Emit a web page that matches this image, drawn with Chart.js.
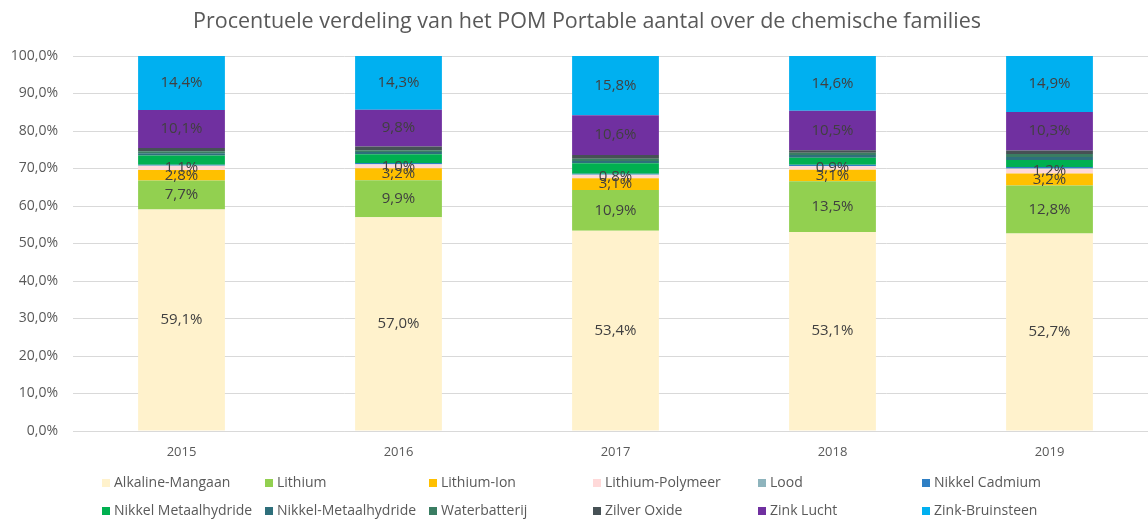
<!DOCTYPE html>
<html lang="nl">
<head>
    <meta charset="UTF-8">
    <title>POM Portable aantal</title>
    <style>
        html, body {
            margin: 0;
            padding: 0;
            background: #fff;
            overflow: hidden;
        }
        #wrap {
            width: 1158px;
            height: 519px;
        }
    </style>
</head>
<body>
    <div id="wrap">
        <canvas id="chart" width="1158" height="519"></canvas>
    </div>

    <script src="https://cdn.jsdelivr.net/npm/chart.js"></script>
    <script>
        // data (percentages per year)
        const years = ['2015', '2016', '2017', '2018', '2019'];

        const alkalineMangaan = [59.1, 57.0, 53.4, 53.1, 52.7];
        const lithium = [7.7, 9.9, 10.9, 13.5, 12.8];
        const lithiumIon = [2.8, 3.2, 3.1, 3.1, 3.2];
        const lithiumPolymeer = [1.1, 1.0, 0.8, 0.9, 1.2];
        const lood = [0.1, 0.1, 0.2, 0.1, 0.2];
        const nikkelCadmium = [0.2, 0.3, 0.2, 0.3, 0.3];
        const nikkelMetaalhydride = [2.5, 2.3, 2.8, 1.9, 1.9];
        const nikkelMetaalhydride2 = [0.6, 0.6, 0.6, 0.7, 0.8];
        const waterbatterij = [0.5, 0.5, 0.6, 0.6, 0.8];
        const zilverOxide = [0.9, 1.0, 1.0, 0.7, 0.9];
        const zinkLucht = [10.1, 9.8, 10.6, 10.5, 10.3];
        const zinkBruinsteen = [14.4, 14.3, 15.8, 14.6, 14.9];

        const yTicks = [0, 10, 20, 30, 40, 50, 60, 70, 80, 90, 100];

        // series that get a value label inside the bar
        const labelled = ['Alkaline-Mangaan', 'Lithium', 'Lithium-Ion', 'Lithium-Polymeer', 'Zink Lucht', 'Zink-Bruinsteen'];

        const FONT = '"Open Sans", Lato, sans-serif';
        const GREY = '#595959';

        function pct(v) {
            return v.toFixed(1).replace('.', ',') + '%';
        }

        const series = [
            ['Alkaline-Mangaan', alkalineMangaan, '#fff2cc'],
            ['Lithium', lithium, '#92d050'],
            ['Lithium-Ion', lithiumIon, '#ffc000'],
            ['Lithium-Polymeer', lithiumPolymeer, '#ffd9d9'],
            ['Lood', lood, '#8eb4bd'],
            ['Nikkel Cadmium', nikkelCadmium, '#2e7fc4'],
            ['Nikkel Metaalhydride', nikkelMetaalhydride, '#00b050'],
            ['Nikkel-Metaalhydride', nikkelMetaalhydride2, '#2e6f7b'],
            ['Waterbatterij', waterbatterij, '#3a7d62'],
            ['Zilver Oxide', zilverOxide, '#465155'],
            ['Zink Lucht', zinkLucht, '#7030a0'],
            ['Zink-Bruinsteen', zinkBruinsteen, '#00b0f0']
        ];

        // title, value labels and a grid legend drawn on the canvas
        const extras = {
            id: 'extras',
            afterDatasetsDraw(chart) {
                const ctx = chart.ctx;
                ctx.save();
                ctx.font = '15px ' + FONT;
                ctx.fillStyle = '#404040';
                ctx.textAlign = 'center';
                ctx.textBaseline = 'middle';
                chart.data.datasets.forEach((ds, i) => {
                    if (!labelled.includes(ds.label)) return;
                    chart.getDatasetMeta(i).data.forEach((bar, j) => {
                        const p = bar.getProps(['x', 'y', 'base'], true);
                        ctx.fillText(pct(ds.data[j]), p.x, (p.y + p.base) / 2);
                    });
                });
                ctx.restore();
            },
            afterDraw(chart) {
                const ctx = chart.ctx;
                ctx.save();
                // title
                ctx.font = '21.5px ' + FONT;
                ctx.fillStyle = GREY;
                ctx.textAlign = 'center';
                ctx.textBaseline = 'middle';
                ctx.fillText('Procentuele verdeling van het POM Portable aantal over de chemische families', 587, 22);

                // legend, 6 columns x 2 rows
                const cols = [102, 265, 429, 593, 758, 922];
                const rows = [483, 511];
                ctx.font = '14px ' + FONT;
                ctx.textAlign = 'left';
                chart.data.datasets.forEach((ds, i) => {
                    const x = cols[i % 6];
                    const y = rows[Math.floor(i / 6)];
                    ctx.fillStyle = ds.backgroundColor;
                    ctx.fillRect(x, y - 4, 8, 8);
                    ctx.fillStyle = GREY;
                    ctx.fillText(ds.label, x + 12, y);
                });
                ctx.restore();
            }
        };

        const ctx = document.getElementById('chart').getContext('2d');
        const chart = new Chart(ctx, {
            type: 'bar',
            data: {
                labels: years,
                datasets: series.map(s => ({
                    label: s[0],
                    data: s[1],
                    backgroundColor: s[2],
                    borderWidth: 0,
                    barPercentage: 0.4,
                    categoryPercentage: 1.0
                }))
            },
            options: {
                responsive: false,
                animation: false,
                devicePixelRatio: 1,
                layout: {
                    padding: { top: 56, right: 0, bottom: 0, left: 0 }
                },
                plugins: {
                    legend: { display: false },
                    title: { display: false },
                    tooltip: { enabled: false }
                },
                scales: {
                    x: {
                        stacked: true,
                        grid: { display: false, drawTicks: false },
                        border: { color: '#d9d9d9' },
                        ticks: {
                            color: GREY,
                            font: { family: FONT, size: 13 },
                            padding: 13
                        },
                        afterFit(scale) {
                            scale.height = 88;
                        }
                    },
                    y: {
                        stacked: true,
                        min: 0,
                        max: 100,
                        grid: { color: '#d9d9d9', drawTicks: false },
                        border: { display: false },
                        afterBuildTicks(scale) {
                            scale.ticks = yTicks.map(v => ({ value: v }));
                        },
                        ticks: {
                            color: GREY,
                            font: { family: FONT, size: 14 },
                            padding: 15,
                            callback: v => pct(v)
                        },
                        afterFit(scale) {
                            scale.width = 73;
                        }
                    }
                }
            },
            plugins: [extras]
        });
    </script>
</body>
</html>
